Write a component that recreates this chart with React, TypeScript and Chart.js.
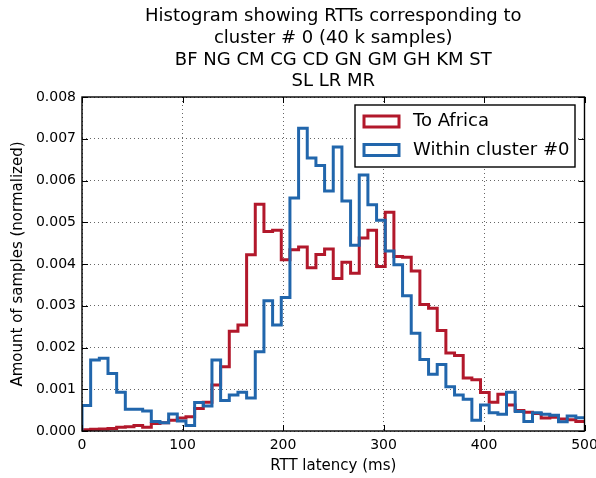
import React, { useEffect, useRef } from "react";
import { Chart, registerables } from "chart.js";

Chart.register(...registerables);

// ---- data ----
const X_MIN = 0;
const X_MAX = 500;
const BIN_COUNT = 58;

const titleLines = [
  "Histogram showing RTTs corresponding to",
  "cluster # 0 (40 k samples)",
  "BF NG CM CG CD GN GM GH KM ST",
  "SL LR MR",
];
const seriesLabels = ["To Africa", "Within cluster #0"];
const xLabel = "RTT latency (ms)";
const yLabel = "Amount of samples (normalized)";
const xTicks = [0, 100, 200, 300, 400, 500];
const yTicks = [0, 0.001, 0.002, 0.003, 0.004, 0.005, 0.006, 0.007, 0.008];

const toAfrica = [
  0.00003, 0.00004, 0.00005, 0.00006, 0.00009, 0.0001, 0.00013, 0.00009, 0.00018, 0.0002,
  0.00026, 0.00031, 0.00034, 0.00054, 0.00069, 0.0011, 0.00154, 0.00239, 0.00254, 0.00422,
  0.00543, 0.00478, 0.00481, 0.0041, 0.00434, 0.00441, 0.00391, 0.00423, 0.00436, 0.00365,
  0.00404, 0.00378, 0.00462, 0.00481, 0.00394, 0.00524, 0.00418, 0.00416, 0.00383, 0.00303,
  0.00294, 0.00241, 0.00187, 0.00181, 0.00127, 0.00123, 0.00092, 0.00069, 0.00088, 0.00062,
  0.00049, 0.00045, 0.00042, 0.00031, 0.00033, 0.00029, 0.00027, 0.00023,
];

const withinCluster = [
  0.00061, 0.0017, 0.00174, 0.00138, 0.00093, 0.00052, 0.00052, 0.00048, 0.00023, 0.0002,
  0.00041, 0.00024, 0.00013, 0.00068, 0.0006, 0.0017, 0.00073, 0.00086, 0.00093, 0.00079,
  0.0019, 0.00312, 0.00254, 0.0032, 0.00558, 0.00725, 0.00654, 0.00636, 0.00575, 0.0068,
  0.00551, 0.00445, 0.00613, 0.00542, 0.00505, 0.00431, 0.00398, 0.00324, 0.00234, 0.00171,
  0.00136, 0.00159, 0.00106, 0.00086, 0.00076, 0.00026, 0.00062, 0.00044, 0.0004, 0.00093,
  0.00047, 0.00023, 0.00044, 0.0004, 0.00038, 0.00022, 0.00036, 0.00032,
];

const RED = "#b2182b";
const BLUE = "#2166ac";
const FONT = "'DejaVu Sans', 'Liberation Sans', sans-serif";

const BIN_WIDTH = (X_MAX - X_MIN) / BIN_COUNT;

function stepPoints(values: number[]) {
  const pts: { x: number; y: number }[] = [{ x: X_MIN, y: 0 }];
  values.forEach((v, i) => pts.push({ x: X_MIN + i * BIN_WIDTH, y: v }));
  const end = X_MIN + values.length * BIN_WIDTH;
  pts.push({ x: end, y: values[values.length - 1] });
  pts.push({ x: end, y: 0 });
  return pts;
}

const decorPlugin = {
  id: "decor",
  afterDraw(chart: any) {
    const ctx = chart.ctx as CanvasRenderingContext2D;
    const { left, right, top, bottom } = chart.chartArea;
    const xs = chart.scales.x;
    const ys = chart.scales.y;
    ctx.save();
    // inward tick marks
    ctx.strokeStyle = "#000";
    ctx.lineWidth = 1;
    const tl = 6;
    ctx.beginPath();
    xTicks.forEach((t) => {
      const px = Math.round(xs.getPixelForValue(t)) + 0.5;
      ctx.moveTo(px, bottom);
      ctx.lineTo(px, bottom - tl);
      ctx.moveTo(px, top);
      ctx.lineTo(px, top + tl);
    });
    yTicks.forEach((t) => {
      const py = Math.round(ys.getPixelForValue(t)) + 0.5;
      ctx.moveTo(left, py);
      ctx.lineTo(left + tl, py);
      ctx.moveTo(right, py);
      ctx.lineTo(right - tl, py);
    });
    ctx.stroke();
    // frame
    ctx.lineWidth = 1.4;
    ctx.strokeRect(left, top, right - left, bottom - top);

    // title
    ctx.fillStyle = "#000";
    ctx.textAlign = "center";
    ctx.textBaseline = "middle";
    ctx.font = `18px ${FONT}`;
    const cx = (left + right) / 2;
    const ty = [16, 38, 60, 81];
    titleLines.forEach((l, i) => ctx.fillText(l, cx, ty[i]));

    // axis labels
    ctx.font = `15px ${FONT}`;
    ctx.fillText(xLabel, cx, 466);
    ctx.save();
    ctx.translate(18, (top + bottom) / 2);
    ctx.rotate(-Math.PI / 2);
    ctx.fillText(yLabel, 0, 0);
    ctx.restore();

    // legend
    const lx = 355, ly = 105, lw = 220, lh = 62;
    ctx.fillStyle = "#fff";
    ctx.fillRect(lx, ly, lw, lh);
    ctx.strokeStyle = "#000";
    ctx.lineWidth = 1.4;
    ctx.strokeRect(lx, ly, lw, lh);
    const colors = [RED, BLUE];
    const rows = [121.5, 150];
    ctx.lineWidth = 3;
    ctx.textAlign = "left";
    ctx.font = `18px ${FONT}`;
    seriesLabels.forEach((lab, i) => {
      ctx.strokeStyle = colors[i];
      ctx.strokeRect(364, rows[i] - 5.5, 35, 11);
      ctx.fillStyle = "#000";
      ctx.fillText(lab, 413, rows[i]);
    });
    ctx.restore();
  },
};

export default function App() {
  const ref = useRef<HTMLCanvasElement>(null);
  useEffect(() => {
    if (!ref.current) return;
    const chart = new Chart(ref.current, {
      type: "line",
      data: {
        datasets: [
          {
            label: seriesLabels[0],
            data: stepPoints(toAfrica),
            borderColor: RED,
            borderWidth: 3,
            stepped: "before",
            pointRadius: 0,
            fill: false,
            order: 2,
          },
          {
            label: seriesLabels[1],
            data: stepPoints(withinCluster),
            borderColor: BLUE,
            borderWidth: 3,
            stepped: "before",
            pointRadius: 0,
            fill: false,
            order: 1,
          },
        ],
      },
      options: {
        responsive: false,
        animation: false,
        events: [],
        layout: { padding: { top: 97, right: 11.5, left: 0, bottom: 0 } },
        plugins: {
          legend: { display: false },
          title: { display: false },
          tooltip: { enabled: false },
        },
        scales: {
          x: {
            type: "linear",
            min: X_MIN,
            max: X_MAX,
            afterBuildTicks: (s: any) => {
              s.ticks = xTicks.map((v) => ({ value: v }));
            },
            afterFit: (s: any) => {
              s.height = 47;
              s.paddingLeft = 0;
              s.paddingRight = 0;
            },
            ticks: {
              color: "#000",
              font: { family: FONT, size: 14 },
              padding: 6,
              maxRotation: 0,
              autoSkip: false,
              callback: (v: any) => String(v),
            },
            grid: { color: "rgba(0,0,0,0.6)", lineWidth: 1, drawTicks: false },
            border: { display: false, dash: [1, 3] },
          },
          y: {
            type: "linear",
            min: 0,
            max: 0.008,
            afterBuildTicks: (s: any) => {
              s.ticks = yTicks.map((v) => ({ value: v }));
            },
            afterFit: (s: any) => {
              s.width = 82;
              s.paddingTop = 0;
              s.paddingBottom = 0;
            },
            ticks: {
              color: "#000",
              font: { family: FONT, size: 14 },
              padding: 6,
              autoSkip: false,
              callback: (v: any) => Number(v).toFixed(3),
            },
            grid: { color: "rgba(0,0,0,0.6)", lineWidth: 1, drawTicks: false },
            border: { display: false, dash: [1, 3] },
          },
        },
      },
      plugins: [decorPlugin],
    });
    return () => chart.destroy();
  }, []);
  return (
    <div style={{ position: "fixed", left: 0, top: 0, width: 596, height: 478, background: "#fff" }}>
      <canvas ref={ref} width={596} height={478} style={{ display: "block" }} />
    </div>
  );
}
